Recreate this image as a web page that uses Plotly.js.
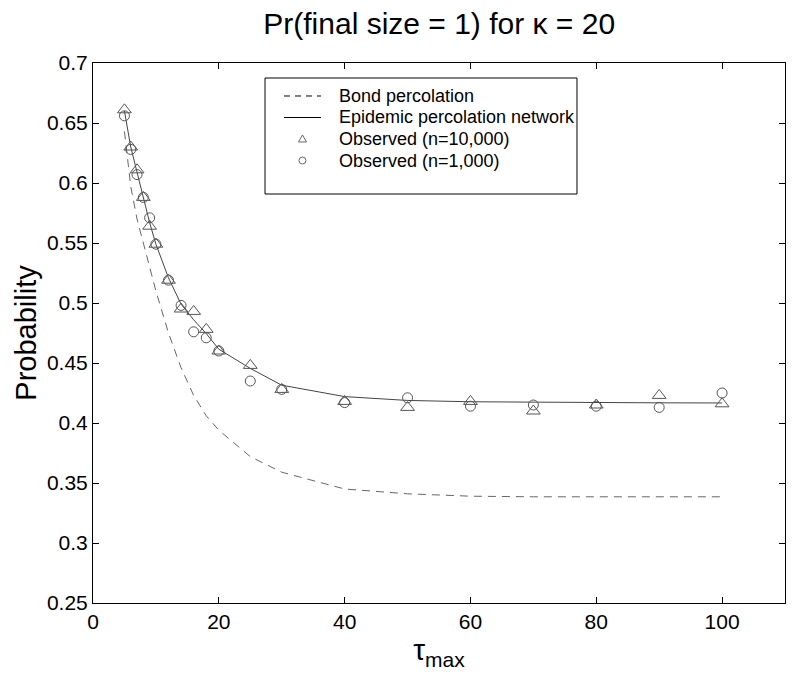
<!DOCTYPE html>
<html>
<head>
<meta charset="utf-8">
<script src="https://cdn.plot.ly/plotly-3.0.1.min.js"></script>
<style>html,body{margin:0;padding:0;background:#fff;}#chart{width:800px;height:682px;}</style>
</head>
<body>
<div id="chart"></div>
<script>
// tau_max values
const tau = [5, 6, 7, 8, 9, 10, 12, 14, 16, 18, 20, 25, 30, 40, 50, 60, 70, 80, 90, 100];
// Bond percolation (dashed)
const bondPerc = [0.643, 0.597, 0.570, 0.550, 0.528, 0.510, 0.475, 0.446, 0.423, 0.406, 0.394, 0.372, 0.359, 0.345, 0.341, 0.339, 0.3385, 0.3385, 0.3385, 0.3385];
// Epidemic percolation network (solid)
const epidemicNet = [0.660, 0.630, 0.609, 0.588, 0.567, 0.549, 0.521, 0.499, 0.486, 0.4745, 0.4615, 0.4455, 0.4315, 0.422, 0.4188, 0.4177, 0.4172, 0.417, 0.4168, 0.4167];
// Observed (n=10,000) triangles
const obs10000 = [0.661, 0.630, 0.611, 0.588, 0.564, 0.549, 0.519, 0.495, 0.493, 0.478, 0.460, 0.448, 0.428, 0.418, 0.413, 0.418, 0.410, 0.415, 0.423, 0.416];
// Observed (n=1,000) circles
const obs1000 = [0.656, 0.628, 0.607, 0.588, 0.571, 0.549, 0.519, 0.498, 0.476, 0.471, 0.460, 0.435, 0.428, 0.417, 0.421, 0.414, 0.415, 0.414, 0.413, 0.425];
const legendLabels = ["Bond percolation", "Epidemic percolation network", "Observed (n=10,000)", "Observed (n=1,000)"];
const xTicks = [0, 20, 40, 60, 80, 100];
const yTicks = [0.25, 0.3, 0.35, 0.4, 0.45, 0.5, 0.55, 0.6, 0.65, 0.7];

const FONT = "Arial, 'Liberation Sans', sans-serif";
const markerColor = "#555";

const traces = [
  {x: tau, y: bondPerc, mode: "lines", name: legendLabels[0],
   line: {color: "#666", width: 1, dash: "8px,6px"}},
  {x: tau, y: epidemicNet, mode: "lines", name: legendLabels[1],
   line: {color: "#444", width: 1}},
  {x: tau, y: obs10000, mode: "markers", name: legendLabels[2],
   marker: {symbol: "triangle-up-open", size: 12, color: markerColor, line: {width: 1, color: markerColor}}},
  {x: tau, y: obs1000, mode: "markers", name: legendLabels[3],
   marker: {symbol: "circle-open", size: 10, color: markerColor, line: {width: 1, color: markerColor}}}
];

// Manual legend (paper coordinates)
const lgBox = {x0: 0.2486, x1: 0.6994, y0: 0.7574, y1: 0.9722};
const rowY = [0.9389, 0.8991, 0.8593, 0.8194];
const keyX0 = 0.276, keyX1 = 0.3295, keyXc = 0.3027, textX = 0.3526;
const pxX = 1 / 692, pxY = 1 / 540;

const shapes = [
  {type: "rect", xref: "paper", yref: "paper", x0: lgBox.x0, x1: lgBox.x1, y0: lgBox.y0, y1: lgBox.y1,
   line: {color: "#000", width: 1}, fillcolor: "#fff", layer: "above"},
  {type: "line", xref: "paper", yref: "paper", x0: keyX0, x1: keyX1, y0: rowY[0], y1: rowY[0],
   line: {color: "#000", width: 1, dash: "6px,5px"}, layer: "above"},
  {type: "line", xref: "paper", yref: "paper", x0: keyX0, x1: keyX1, y0: rowY[1], y1: rowY[1],
   line: {color: "#000", width: 1}, layer: "above"},
  {type: "path", xref: "paper", yref: "paper", layer: "above",
   path: `M ${keyXc - 4 * pxX} ${rowY[2] - 3 * pxY} L ${keyXc + 4 * pxX} ${rowY[2] - 3 * pxY} L ${keyXc} ${rowY[2] + 4 * pxY} Z`,
   line: {color: "#666", width: 1}},
  {type: "circle", xref: "paper", yref: "paper", layer: "above",
   x0: keyXc - 3.5 * pxX, x1: keyXc + 3.5 * pxX, y0: rowY[3] - 3.5 * pxY, y1: rowY[3] + 3.5 * pxY,
   line: {color: "#666", width: 1}}
];
const annotations = legendLabels.map((t, i) => ({
  text: t, xref: "paper", yref: "paper", x: textX, y: rowY[i], xanchor: "left", yanchor: "middle",
  showarrow: false, font: {family: FONT, size: 18, color: "#000"}
}));

const layout = {
  width: 800, height: 682,
  margin: {l: 93, r: 15, t: 63, b: 79},
  paper_bgcolor: "#fff", plot_bgcolor: "#fff",
  showlegend: false,
  title: {text: "Pr(final size = 1) for κ = 20", font: {family: FONT, size: 30, color: "#000"},
          x: 0.549, xanchor: "center", y: 0.965, yanchor: "middle", yref: "container"},
  xaxis: {range: [0, 110], tickvals: xTicks, ticks: "inside", ticklen: 6, tickcolor: "#000",
          showline: true, linecolor: "#000", linewidth: 1, mirror: "ticks", zeroline: false, showgrid: false,
          tickfont: {family: FONT, size: 21, color: "#000"},
          title: {text: "τ<sub>max</sub>", font: {family: FONT, size: 30, color: "#000"}, standoff: 1}},
  yaxis: {range: [0.25, 0.7], tickvals: yTicks, ticks: "inside", ticklen: 6, tickcolor: "#000",
          showline: true, linecolor: "#000", linewidth: 1, mirror: "ticks", zeroline: false, showgrid: false,
          tickfont: {family: FONT, size: 21, color: "#000"},
          title: {text: "Probability", font: {family: FONT, size: 29, color: "#000"}, standoff: 1}},
  shapes: shapes,
  annotations: annotations
};

Plotly.newPlot("chart", traces, layout, {displayModeBar: false, staticPlot: true});
</script>
</body>
</html>
